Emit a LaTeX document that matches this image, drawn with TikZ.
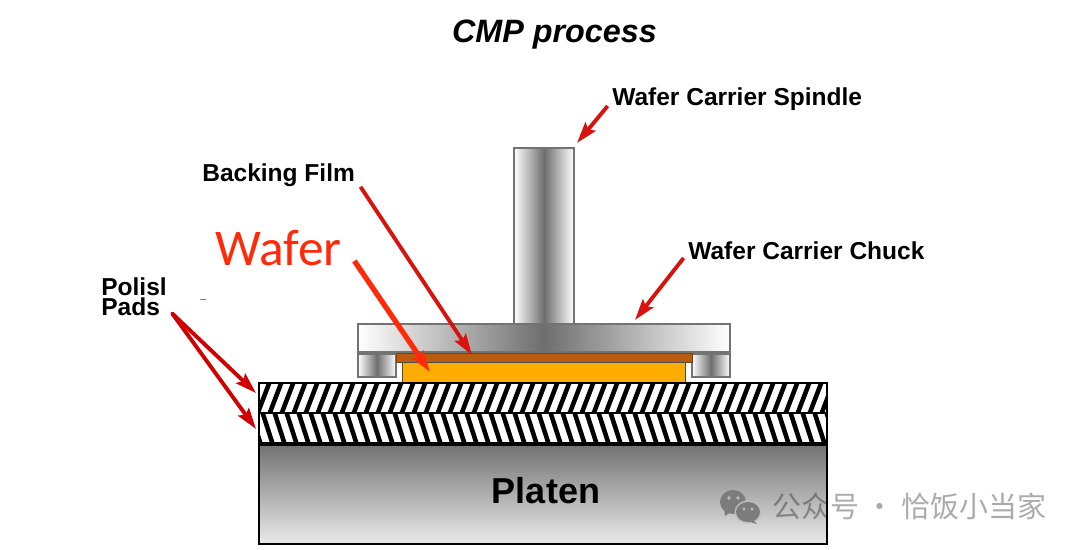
\documentclass[tikz,border=0pt]{standalone}
\usepackage{fontspec}
\setmainfont{Liberation Sans}
\newfontfamily\cjk{Noto Sans CJK SC}
\newfontfamily\carlito{Carlito}
\usepackage{xcolor}
\usetikzlibrary{arrows.meta,positioning,calc}
\definecolor{CmpRed}{HTML}{D8120C}
\definecolor{WaferRed}{HTML}{FF2A0A}
\definecolor{PadRed}{HTML}{D00000}
\definecolor{FilmBrown}{HTML}{B85C10}
\definecolor{WaferGold}{HTML}{FFAC00}
\definecolor{SteelGray}{HTML}{6E6E6E}
\definecolor{MarkGray}{HTML}{7C7C7C}
\tikzset{
  partlabel/.style={inner sep=0pt,font=\bfseries\fontsize{13.95}{11.3}\selectfont,text=black},
  redarrow/.style={draw=CmpRed,line width=2.2pt,-{Stealth[length=12pt,width=7.5pt,inset=2pt]}},
  steelbar/.style={draw=black!55,line width=.7pt,left color=white,right color=white,middle color=SteelGray},
  hatchline/.style={line width=2.6pt,black},
}
\begin{document}
\begin{tikzpicture}[x=.02cm,y=-.02cm]
  \useasboundingbox (0,0) rectangle (1080,550);
  % Coordinates follow the pixels of the 1080x550 picture, y downwards.
  \node[inner sep=0pt,font=\bfseries\itshape\fontsize{18.4}{20}\selectfont] (title) at (554.5,35) {CMP process};

  % Carrier
  \filldraw[steelbar] (514,148) rectangle (574,324);
  \filldraw[steelbar] (358,324) rectangle (730,352);
  \filldraw[steelbar] (358,354) rectangle (396,377);
  \filldraw[steelbar] (692,354) rectangle (730,377);
  \filldraw[fill=FilmBrown,draw=FilmBrown!70!black,line width=.5pt] (396,353) rectangle (692,362);
  \filldraw[fill=WaferGold,draw=black!70,line width=.5pt] (402,362) rectangle (685,383);

  % Pads
  \begin{scope}
    \clip (259,383) rectangle (827,413);
    \foreach \hx in {245,257,...,833}
      \draw[hatchline] (\hx,415) -- (\hx+13,381);
  \end{scope}
  \begin{scope}
    \clip (259,413) rectangle (827,443);
    \foreach \hx in {245,257,...,833}
      \draw[hatchline] (\hx+5,411) -- (\hx+16,445);
  \end{scope}
  \draw[black,line width=1.1pt] (259,383) rectangle (827,443);
  \draw[black,line width=1.1pt] (259,413) -- (827,413);

  % Platen
  \filldraw[draw=black,line width=1.1pt,top color=black!55,bottom color=black!8] (259,445) rectangle (827,544);
  \node[inner sep=0pt,font=\bfseries\fontsize{20.5}{22}\selectfont] (platen) at (546,491) {Platen};

  % Labels
  \node[partlabel,anchor=west] (spindlelabel) at (612,99) {Wafer Carrier Spindle};
  \node[partlabel,anchor=west] (backinglabel) at (202,175) {Backing Film};
  \node[partlabel,anchor=west] (chucklabel) at (688,251) {Wafer Carrier Chuck};
  \node[partlabel,anchor=west,align=left] (padslabel) at (101,297) {Polisl\\Pads};
  \node[inner sep=0pt,anchor=west,text=WaferRed,font=\carlito\fontsize{29.3}{30}\selectfont] (waferlabel) at (215,248) {Wafer};
  \draw[black!50,line width=.5pt] (200,299) -- (206,299);

  % Arrow tips
  \coordinate (spindletip) at (577,143);
  \coordinate (backingtip) at (472,355);
  \coordinate (chucktip) at (635,320);
  \coordinate (wafertip) at (430,372);
  \coordinate (padtipa) at (256,393);
  \coordinate (padtipb) at (256,429);

  \draw[redarrow] ([xshift=-2.5pt,yshift=-4pt]spindlelabel.west) -- (spindletip);
  \draw[redarrow] ([xshift=3pt]backinglabel.south east) -- (backingtip);
  \draw[redarrow] ([xshift=-2.5pt,yshift=-4pt]chucklabel.west) -- (chucktip);
  \draw[redarrow,draw=WaferRed,line width=3pt] ([xshift=7pt,yshift=3pt]waferlabel.south east) -- (wafertip);
  \draw[redarrow,draw=PadRed,line cap=round] ([xshift=3pt,yshift=1.5pt]padslabel.south east) -- (padtipa);
  \draw[redarrow,draw=PadRed,line cap=round] ([xshift=3pt,yshift=1.5pt]padslabel.south east) -- (padtipb);

  % Watermark
  \fill[MarkGray] (733,502) ellipse (13 and 12);
  \fill[MarkGray] (724,508) -- (725,516) -- (732,511) -- cycle;
  \fill[black!25] (748,512) ellipse (13.5 and 11.5);
  \fill[MarkGray] (748,512) ellipse (12 and 10);
  \fill[MarkGray] (753,520) -- (757,524) -- (747,521) -- cycle;
  \fill[black!25] (729,498) circle (1.8) (738,498) circle (1.8) (744,509) circle (1.6) (752,509) circle (1.6);
  \node[inner sep=0pt,anchor=west,text=black,opacity=.33,font=\cjk\fontsize{16.5}{18}\selectfont] (watermark) at (772,506) {公众号 · 恰饭小当家};
\end{tikzpicture}
\end{document}
